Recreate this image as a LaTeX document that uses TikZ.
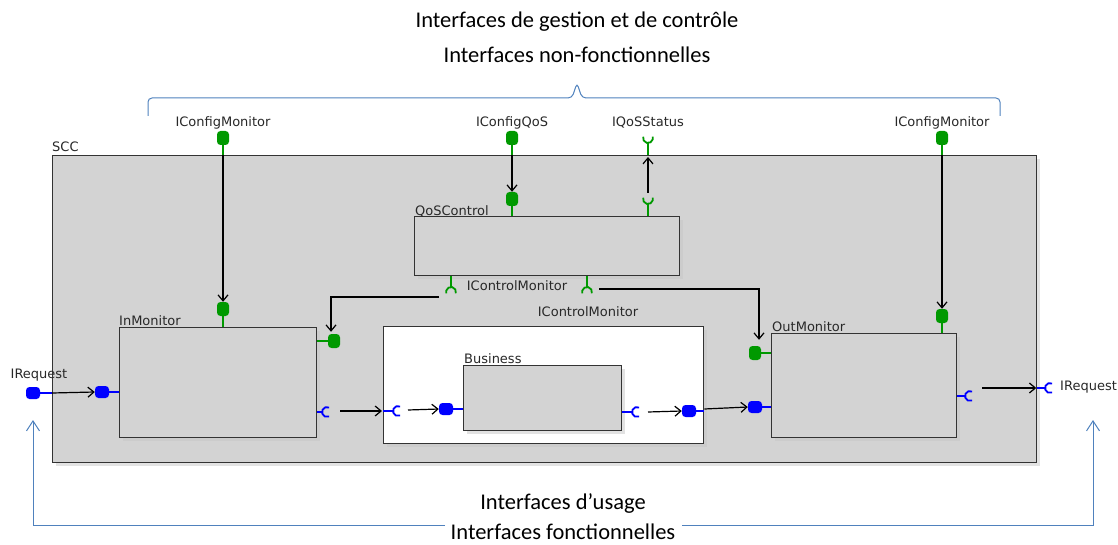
\documentclass[tikz,border=0pt]{standalone}
\usepackage{fontspec}
\setmainfont{DejaVu Sans}
\newfontfamily\bigfont{Carlito}
\usetikzlibrary{arrows.meta,shapes.misc,shadows}
\definecolor{boxgray}{RGB}{211,211,211}
\definecolor{pgreen}{RGB}{0,153,0}
\definecolor{pblue}{RGB}{0,0,255}
\definecolor{braceblue}{RGB}{79,129,189}
\definecolor{lblgray}{RGB}{40,40,40}
\begin{document}
\begin{tikzpicture}[x=1pt,y=-1pt,
  comp/.style={draw=black!80, line width=1.3pt, fill=boxgray, inner sep=0pt, anchor=north west,
    drop shadow={shadow xshift=3pt,shadow yshift=-3pt,fill=black!22}},
  pport/.style={rectangle, rounded corners=3.5pt, draw=none, inner sep=0pt},
  gport/.style={pport, fill=pgreen, minimum width=12pt, minimum height=14pt},
  bport/.style={pport, fill=pblue, minimum width=14pt, minimum height=12pt},
  gstem/.style={pgreen, line width=1.6pt},
  bstem/.style={pblue, line width=1.2pt},
  gcup/.style={pgreen, line width=1.8pt},
  bcup/.style={pblue, line width=1.8pt},
  conn/.style={black, line width=1.2pt, -{Straight Barb[length=6pt,width=10pt]}},
  lbl/.style={font=\fontsize{13}{15}\selectfont, text=lblgray, inner sep=0pt},
  big/.style={font=\bigfont\fontsize{22.5}{26}\selectfont, inner sep=0pt},
  bl/.style={braceblue, line width=1pt}
]
\useasboundingbox (0,0) rectangle (1118,545);

% ---------- top texts and brace
\node[big] (topA) at (577,22) {Interfaces de gestion et de contrôle};
\node[big] (topB) at (577,55) {Interfaces non-fonctionnelles};
\draw[bl, rounded corners=4pt] (148,116) -- (148,98) -- (572,98) -- (577,83) -- (582,98) -- (1000,98) -- (1000,116);

% ---------- components
\node[comp, minimum width=984pt, minimum height=307pt] (scc) at (52,155) {};
\node[comp, minimum width=265pt, minimum height=59pt] (qos) at (414,216) {};
\node[comp, minimum width=197pt, minimum height=110pt] (inmon) at (119,327) {};
\node[comp, fill=white, minimum width=320pt, minimum height=117pt] (cont) at (383,326) {};
\node[comp, minimum width=158pt, minimum height=65pt] (bus) at (463,365) {};
\node[comp, minimum width=185pt, minimum height=104pt] (outmon) at (771,333) {};

% ---------- component labels
\node[lbl, anchor=west] (lscc) at (52,147) {SCC};
\node[lbl, anchor=west] (lqos) at (415,211) {QoSControl};
\node[lbl, anchor=west] (lin) at (119,321) {InMonitor};
\node[lbl, anchor=west] (lbus) at (464,359) {Business};
\node[lbl, anchor=west] (lout) at (772,327) {OutMonitor};

% ---------- interface labels
\node[lbl] (tcfgL) at (223,123) {IConfigMonitor};
\node[lbl] (tcfgQ) at (512,123) {IConfigQoS};
\node[lbl] (tqs) at (648,123) {IQoSStatus};
\node[lbl] (tcfgR) at (942,123) {IConfigMonitor};
\node[lbl] (tctl1) at (517,286) {IControlMonitor};
\node[lbl] (tctl2) at (588,312) {IControlMonitor};
\node[lbl] (treqL) at (39,375) {IRequest};
\node[lbl, anchor=west] (treqR) at (1060,387) {IRequest};

% ---------- green provided ports
\node[gport] (cfgL) at (223,138) {};
\node[gport] (cfgQ) at (512,138) {};
\node[gport] (cfgR) at (942,138) {};
\node[gport] (qosIn) at (512,199) {};
\node[gport] (inTop) at (223,309) {};
\node[gport] (inRight) at (334,341) {};
\node[gport] (outTop) at (942,316) {};
\node[gport] (outLeftG) at (755,353) {};
\draw[gstem] (cfgL.south) -- (cfgL.south |- scc.north);
\draw[gstem] (cfgQ.south) -- (cfgQ.south |- scc.north);
\draw[gstem] (cfgR.south) -- (cfgR.south |- scc.north);
\draw[gstem] (qosIn.south) -- (qosIn.south |- qos.north);
\draw[gstem] (inTop.south) -- (inTop.south |- inmon.north);
\draw[gstem] (inRight.east) -- (inRight.east -| inmon.east);
\draw[gstem] (outTop.south) -- (outTop.south |- outmon.north);
\draw[gstem] (outLeftG.east) -- (outLeftG.east -| outmon.west);

% ---------- green required ports (cups)
\coordinate (qsOut) at (648,138);
\coordinate (qsIn) at (648,199);
\coordinate (ctlL) at (451,292);
\coordinate (ctlR) at (587,292);
\draw[gcup] (qsOut) ++(165:5pt) arc (165:375:5pt);
\draw[gcup] (qsIn) ++(165:5pt) arc (165:375:5pt);
\draw[gcup] (ctlL) ++(-15:5pt) arc (-15:195:5pt);
\draw[gcup] (ctlR) ++(-15:5pt) arc (-15:195:5pt);
\draw[gstem] ([yshift=-5pt]qsOut) -- (qsOut |- scc.north);
\draw[gstem] ([yshift=-5pt]qsIn) -- (qsIn |- qos.north);
\draw[gstem] ([yshift=5pt]ctlL) -- (ctlL |- qos.south);
\draw[gstem] ([yshift=5pt]ctlR) -- (ctlR |- qos.south);

% ---------- blue provided ports
\node[bport] (reqL) at (33,393) {};
\node[bport] (inLeft) at (102,392) {};
\node[bport] (busIn) at (446,409) {};
\node[bport] (contOut) at (689,411) {};
\node[bport] (outLeft) at (755,407) {};
\draw[bstem] (reqL.east) -- (reqL.east -| scc.west);
\draw[bstem] (inLeft.east) -- (inLeft.east -| inmon.west);
\draw[bstem] (busIn.east) -- (busIn.east -| bus.west);
\draw[bstem] (contOut.east) -- (contOut.east -| cont.east);
\draw[bstem] (outLeft.east) -- (outLeft.east -| outmon.west);

% ---------- blue required ports (C cups)
\coordinate (inOutC) at (327,412);
\coordinate (contInC) at (398,411);
\coordinate (busOutC) at (637,412);
\coordinate (outRC) at (970,396);
\coordinate (reqR) at (1050,388);
\foreach \c in {inOutC,contInC,busOutC,outRC,reqR}{
  \draw[bcup] (\c) ++(65:5pt) arc (65:295:5pt);
}
\draw[bstem] ([xshift=-5pt]inOutC) -- (inOutC -| inmon.east);
\draw[bstem] ([xshift=-5pt]contInC) -- (contInC -| cont.west);
\draw[bstem] ([xshift=-5pt]busOutC) -- (busOutC -| bus.east);
\draw[bstem] ([xshift=-5pt]outRC) -- (outRC -| outmon.east);
\draw[bstem] ([xshift=-5pt]reqR) -- (reqR -| scc.east);

% ---------- connectors
\draw[conn] (cfgL |- scc.north) -- (inTop.north);
\draw[conn] (cfgQ |- scc.north) -- (qosIn.north);
\draw[conn] (cfgR |- scc.north) -- (outTop.north);
\draw[conn] ([yshift=6pt]qsIn) -- ([yshift=-2pt]qsIn |- scc.north);
\draw[conn] ([xshift=-12pt,yshift=-5pt]ctlL) -| ([xshift=-3pt,yshift=2pt]inRight.north);
\draw[conn] ([xshift=12pt,yshift=3pt]ctlR) -| ([xshift=4pt,yshift=6pt]outLeftG.north);
\draw[conn] (reqL -| scc.west) -- (inLeft.west);
\draw[conn] ([xshift=13pt,yshift=1pt]inOutC) -- ([xshift=-1pt,yshift=1pt]inOutC -| cont.west);
\draw[conn] ([xshift=10pt,yshift=1pt]contInC) -- (busIn.west);
\draw[conn] ([xshift=11pt]busOutC) -- (contOut.west);
\draw[conn] ([yshift=2pt]contOut.east -| cont.east) -- (outLeft.west);
\draw[conn] ([xshift=12pt]outRC |- reqR) -- ([xshift=-1pt]reqR -| scc.east);

% ---------- bottom texts and arrows
\node[big] (botA) at (563,503) {Interfaces d’usage};
\node[big] (botB) at (563,532) {Interfaces fonctionnelles};
\coordinate (gapL) at (445,525);
\coordinate (gapR) at (682,525);
\draw[bl, -{Straight Barb[length=10pt,width=13pt]}] (gapL) -| (33,420);
\draw[bl, -{Straight Barb[length=10pt,width=13pt]}] (gapR) -| (1093,420);
\end{tikzpicture}
\end{document}
